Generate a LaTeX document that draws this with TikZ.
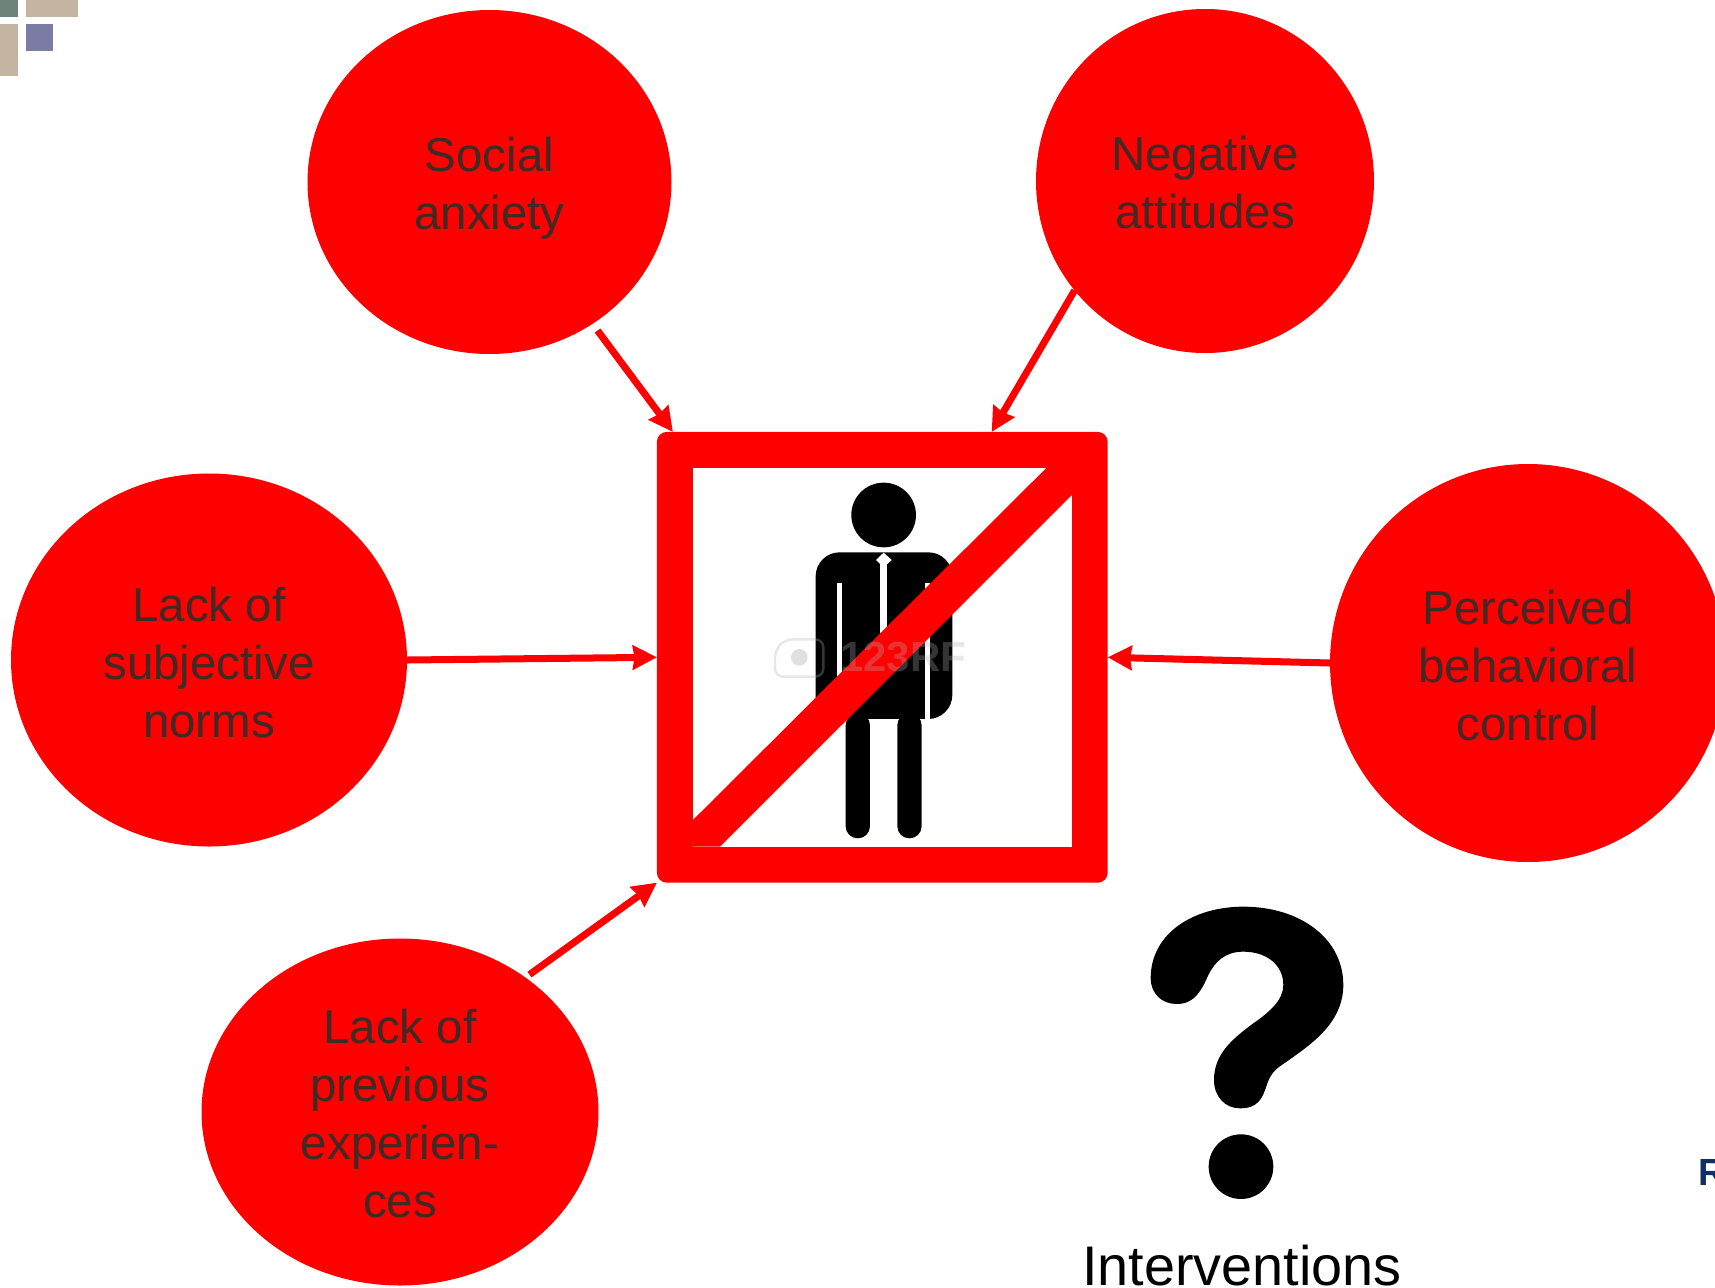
\documentclass[tikz,border=0pt]{standalone}
\usepackage{fontspec}
\setmainfont{Liberation Sans}
\usepackage{tikz}
\usetikzlibrary{shapes.geometric}
\usetikzlibrary{arrows.meta}
\definecolor{circletext}{HTML}{3F2A25}
\definecolor{tiletan}{HTML}{C4B5A2}
\definecolor{tileblue}{HTML}{7B7BA3}
\definecolor{tilegreen}{HTML}{6F8379}
\definecolor{logonavy}{HTML}{0F2F66}
\newcommand{\topstrut}[1]{\rule{0pt}{#1}}
\tikzset{
  causecircle/.style={ellipse, fill=red, inner sep=0cm, outer sep=0cm, align=center,
    text=circletext, font=\fontsize{23.75}{29}\selectfont},
  signbox/.style={rectangle, fill=red, rounded corners=5pt, inner sep=0cm, outer sep=0cm,
    minimum size=225.4pt},
  causearrow/.style={draw=red, line width=3.5pt, -{Stealth[length=12pt,width=12pt,inset=0.8pt]}}
}
\begin{document}
\begin{tikzpicture}[x=0.5pt,y=-0.5pt]
\useasboundingbox (0,0) rectangle (1715,1287);
\clip (0,0) rectangle (1715,1287);

\fill[tilegreen] (0,0) rectangle (18,17);
\fill[tiletan] (26,0) rectangle (78,17);
\fill[tiletan] (0,24) rectangle (18,76);
\fill[tileblue] (26,24) rectangle (53,51);

\draw (489.5, 182) node[causecircle, minimum width=182pt, minimum height=172pt] (social) {\topstrut{23.8pt}Social\\anxiety};
\draw (1205, 181) node[causecircle, minimum width=169pt, minimum height=172pt] (negative) {\topstrut{18.4pt}Negative\\attitudes};
\draw (209, 660) node[causecircle, minimum width=198pt, minimum height=186.5pt] (norms) {\topstrut{19.5pt}Lack of\\subjective\\norms};
\draw (1528, 663) node[causecircle, minimum width=198pt, minimum height=199pt] (control) {\topstrut{19.5pt}Perceived\\behavioral\\control};
\draw (400, 1112) node[causecircle, minimum width=198.5pt, minimum height=173.5pt] (previous) {\topstrut{18.4pt}Lack of\\previous\\experien-\\ces};

\draw (882.3, 657.3) node[signbox] (sign) {};
\begin{scope}[shift={(640,420)},scale=0.3333]
\fill[white] (159,143) rectangle (1296,1280);
\fill[black] (731,285) circle (97);
\fill[black, rounded corners=12pt] (527,897) -- (527,397) -- (937,397) -- (937,897) [sharp corners] -- (870,897) -- cycle;
\fill[white] (592,490) rectangle (607,900);
\fill[white] (855,490) rectangle (870,900);
\fill[white] (720,430) rectangle (742,640);
\fill[white] (731,398) -- (755,420) -- (731,442) -- (708,420) -- cycle;
\fill[black, rounded corners=6pt] (617,880) rectangle (690,1255);
\fill[black, rounded corners=6pt] (772,880) rectangle (845,1255);
\fill[red] (1220,143) -- (1296,143) -- (1296,225) -- (240,1280) -- (159,1280) -- (159,1200) -- cycle;
\draw[gray!60, opacity=0.3, line width=1.2pt, rounded corners=4pt] (405,770) -- (405,690) -- (435,658) -- (550,658) -- (550,770) -- cycle;
\fill[gray!60, opacity=0.4] (478,712) circle (25);
\draw (790, 712) node[text=gray!60, text opacity=0.3, font=\bfseries\fontsize{21}{21}\selectfont] (mark) {123RF};
\end{scope}

\coordinate (socialtip) at ([xshift=8pt]sign.north west);
\coordinate (negativetip) at ([xshift=-58pt]sign.north east);
\draw[causearrow, shorten <=4.2pt] (social.-54.2) -- (socialtip);
\draw[causearrow] (negative.220.2) -- (negativetip);
\draw[causearrow] (norms.east) -- (sign.west);
\draw[causearrow] (control.west) -- (sign.east);
\draw[causearrow, shorten <=2.5pt] (previous.47.8) -- (sign.south west);

\begin{scope}[shift={(1130,890)},scale=0.3333]
\fill[black] (140,342) .. controls (95,342) and (62,310) .. (62,265)
  .. controls (62,130) and (190,50) .. (340,50)
  .. controls (510,50) and (640,145) .. (640,285)
  .. controls (640,400) and (540,465) .. (470,515)
  .. controls (440,535) and (425,545) .. (412,580)
  .. controls (398,625) and (385,655) .. (330,655)
  .. controls (285,655) and (252,620) .. (252,570)
  .. controls (252,490) and (310,445) .. (370,400)
  .. controls (420,365) and (460,330) .. (460,285)
  .. controls (460,225) and (410,185) .. (340,185)
  .. controls (285,185) and (255,215) .. (235,255)
  .. controls (215,300) and (195,342) .. (140,342) -- cycle;
\fill[black] (333,830) circle (97);
\end{scope}

\draw (1242, 1285.5) node[anchor=base, inner sep=0cm, font=\fontsize{27.9}{30}\selectfont] (interventions) {Interventions};
\draw (1698, 1185) node[anchor=base west, inner sep=0cm, text=logonavy, font=\bfseries\fontsize{18.9}{20}\selectfont] (logo) {R};
\end{tikzpicture}
\end{document}
